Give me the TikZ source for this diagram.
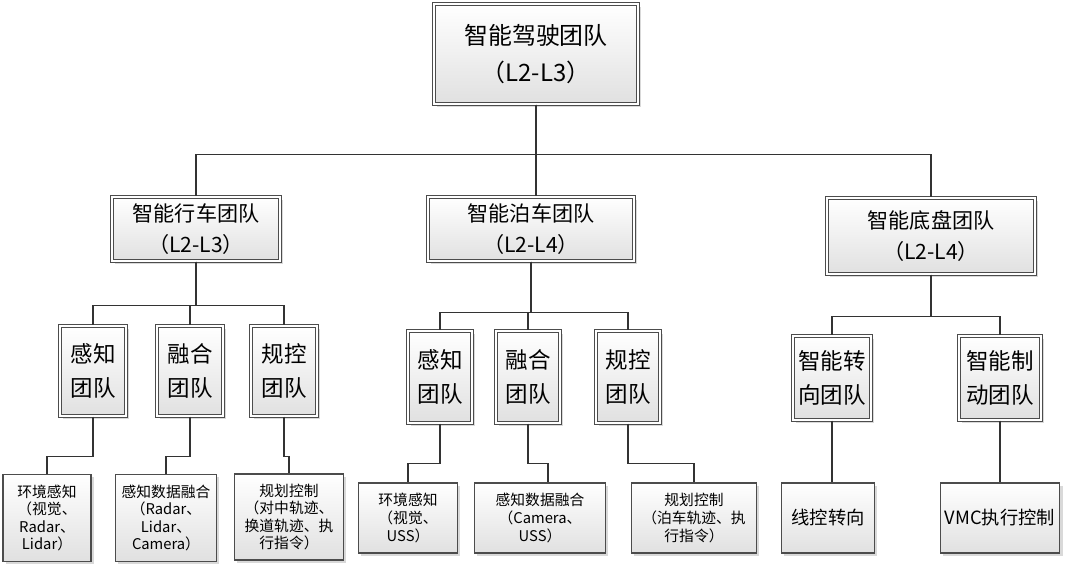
\documentclass[tikz,border=0pt]{standalone}
\usepackage{fontspec}
\setmainfont{Noto Sans CJK SC}
\usetikzlibrary{positioning, shadows}
\tikzset{
	team/.style={draw=black!70, double=white, double distance=1.6pt, thick, align=center,
		top color=white, bottom color=black!12, drop shadow={shadow xshift=2pt, shadow yshift=-2pt, opacity=0.3}},
	task/.style={draw=black!70, thick, align=center, font=\fontsize{10.5}{12.5}\selectfont,
		top color=white, bottom color=black!12, drop shadow={shadow xshift=2pt, shadow yshift=-2pt, opacity=0.3}},
	link/.style={draw=black!80, line width=1.3pt}
}
\begin{document}
\begin{tikzpicture}[x=0.025cm, y=-0.025cm]
	\useasboundingbox (0,0) rectangle (1080,585);
	
	%Top team
	\node (topTeam) at (536,54) [team, minimum width=5.1cm, minimum height=2.5cm,
	font=\fontsize{17}{26}\selectfont] {智能驾驶团队\\（L2-L3）};
	
	%Second level
	\node (driveTeam) at (196,229) [team, minimum width=4.2cm, minimum height=1.6cm,
	font=\fontsize{15}{22}\selectfont] {智能行车团队\\（L2-L3）};
	\node (parkTeam) at (531,229) [team, minimum width=5.15cm, minimum height=1.6cm,
	font=\fontsize{15}{22}\selectfont] {智能泊车团队\\（L2-L4）};
	\node (chassisTeam) at (931,236) [team, minimum width=5.2cm, minimum height=1.9cm,
	font=\fontsize{15}{22}\selectfont] {智能底盘团队\\（L2-L4）};
	
	%Third level
	\node (drivePercep) at (93,371) [team, minimum width=1.65cm, minimum height=2.25cm,
	font=\fontsize{16}{24}\selectfont] {感知\\团队};
	\node (driveFusion) at (190,371) [team, minimum width=1.65cm, minimum height=2.25cm,
	font=\fontsize{16}{24}\selectfont] {融合\\团队};
	\node (drivePlan) at (284,371) [team, minimum width=1.65cm, minimum height=2.25cm,
	font=\fontsize{16}{24}\selectfont] {规控\\团队};
	
	\node (parkPercep) at (440,377) [team, minimum width=1.6cm, minimum height=2.3cm,
	font=\fontsize{16}{24}\selectfont] {感知\\团队};
	\node (parkFusion) at (528,377) [team, minimum width=1.6cm, minimum height=2.3cm,
	font=\fontsize{16}{24}\selectfont] {融合\\团队};
	\node (parkPlan) at (628,377) [team, minimum width=1.6cm, minimum height=2.3cm,
	font=\fontsize{16}{24}\selectfont] {规控\\团队};
	
	\node (steerTeam) at (832,378) [team, minimum width=1.95cm, minimum height=2.1cm,
	font=\fontsize{16}{24}\selectfont] {智能转\\向团队};
	\node (brakeTeam) at (1000,378) [team, minimum width=2.05cm, minimum height=2.1cm,
	font=\fontsize{16}{24}\selectfont] {智能制\\动团队};
	
	%Tasks
	\node (drivePercepTask) at (47,518) [task, minimum width=2.2cm, minimum height=2.175cm]
	{环境感知\\（视觉、\\Radar、\\Lidar）};
	\node (driveFusionTask) at (166,518) [task, minimum width=2.525cm, minimum height=2.175cm]
	{感知数据融合\\（Radar、\\Lidar、\\Camera）};
	\node (drivePlanTask) at (289,517) [task, minimum width=2.725cm, minimum height=2.15cm]
	{规划控制\\（对中轨迹、\\换道轨迹、执\\行指令）};
	
	\node (parkPercepTask) at (408,518) [task, minimum width=2.475cm, minimum height=1.75cm]
	{环境感知\\（视觉、\\USS）};
	\node (parkFusionTask) at (540,518) [task, minimum width=3.275cm, minimum height=1.75cm]
	{感知数据融合\\（Camera、\\USS）};
	\node (parkPlanTask) at (694,518) [task, minimum width=3.125cm, minimum height=1.75cm]
	{规划控制\\（泊车轨迹、执\\行指令）};
	
	\node (steerTask) at (828,518) [task, minimum width=2.325cm, minimum height=1.75cm,
	font=\fontsize{13}{16}\selectfont] {线控转向};
	\node (brakeTask) at (1000,518) [task, minimum width=2.875cm, minimum height=1.75cm,
	font=\fontsize{13}{16}\selectfont] {VMC执行控制};
	
	%Links
	\draw[link] (topTeam.south) -- ++(0,50) -| (driveTeam.north);
	\draw[link] (topTeam.south) -- (topTeam.south |- parkTeam.north);
	\draw[link] (topTeam.south) -- ++(0,50) -| (chassisTeam.north);
	
	\draw[link] (driveTeam.south) -- ++(0,44) -| (drivePercep.north);
	\draw[link] (driveTeam.south) -- ++(0,44) -| (driveFusion.north);
	\draw[link] (driveTeam.south) -- ++(0,44) -| (drivePlan.north);
	
	\draw[link] (parkTeam.south) -- ++(0,51) -| (parkPercep.north);
	\draw[link] (parkTeam.south) -- ++(0,51) -| (parkFusion.north);
	\draw[link] (parkTeam.south) -- ++(0,51) -| (parkPlan.north);
	
	\draw[link] (chassisTeam.south) -- ++(0,42) -| (steerTeam.north);
	\draw[link] (chassisTeam.south) -- ++(0,42) -| (brakeTeam.north);
	
	\draw[link] (drivePercep.south) -- ++(0,40) -| (drivePercepTask.north);
	\draw[link] (driveFusion.south) -- ++(0,40) -| (driveFusionTask.north);
	\draw[link] (drivePlan.south) -- ++(0,40) -| (drivePlanTask.north);
	
	\draw[link] (parkPercep.south) -- ++(0,40) -| (parkPercepTask.north);
	\draw[link] (parkFusion.south) -- ++(0,40) -| ([xshift=0.2cm]parkFusionTask.north);
	\draw[link] (parkPlan.south) -- ++(0,40) -| (parkPlanTask.north);
	
	\draw[link] (steerTeam.south) -- (steerTeam.south |- steerTask.north);
	\draw[link] (brakeTeam.south) -- (brakeTask.north);
	
\end{tikzpicture}
\end{document}
